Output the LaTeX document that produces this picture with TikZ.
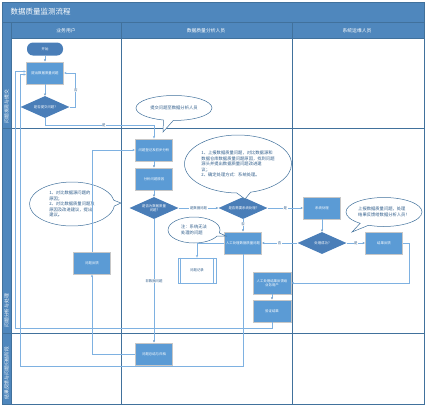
\documentclass[tikz,border=0pt]{standalone}
\usepackage{fontspec}
\setmainfont{Noto Sans CJK SC}
\usetikzlibrary{positioning,shapes.geometric,shapes.callouts,arrows.meta}

\definecolor{laneblue}{HTML}{4F87BD}
\definecolor{lanedark}{HTML}{41719C}
\definecolor{boxblue}{HTML}{5B9BD5}
\definecolor{diablue}{HTML}{4A7EB8}
\definecolor{flowblue}{HTML}{7EB1E1}
\definecolor{textblue}{HTML}{2E5C8A}

\newcommand{\boxfont}{\fontsize{3.4}{4.2}\selectfont}
\newcommand{\notefont}{\fontsize{4.3}{5.6}\selectfont}

\begin{document}
\begin{tikzpicture}
	[x=1pt,y=1pt,on grid,node distance=30pt,
	proc/.style={rectangle,fill=boxblue,draw=black!22,line width=0.9pt,minimum width=37pt,minimum height=22pt,inner sep=1pt,text=white,font=\boxfont,align=center},
	decision/.style={diamond,fill=diablue,minimum width=49pt,minimum height=22pt,aspect=2.2,inner sep=0pt,text=white,font=\boxfont,align=center},
	term/.style={rectangle,rounded corners=6pt,fill=diablue,minimum width=36pt,minimum height=13pt,text=white,font=\boxfont},
	note/.style={ellipse callout,draw=lanedark,fill=white,line width=0.5pt,text=textblue,font=\notefont,align=left,inner sep=0pt},
	flow/.style={draw=flowblue,line width=0.8pt,-{Stealth[length=2.6pt,width=2.2pt]}},
	lbl/.style={fill=white,inner sep=0.6pt,text=textblue,font=\boxfont},
	lane/.style={draw=lanedark,line width=1pt},
	head/.style={text=white,font=\fontsize{4.8}{6}\selectfont}]
	
	\useasboundingbox (0,0) rectangle (427,-407);
	% swimlanes
	\fill[laneblue] (2,-2) rectangle (424,-22);
	\fill[laneblue] (2,-23) rectangle (424,-38);
	\fill[laneblue] (2,-38) rectangle (11,-404);
	\draw[lane] (2,-2) rectangle (424,-404);
	\draw[lane] (2,-22.5) -- (424,-22.5);
	\draw[lane] (11,-38) -- (424,-38);
	\draw[lane] (2,-128) -- (424,-128);
	\draw[lane] (2,-333) -- (424,-333);
	\draw[lane] (11,-23) -- (11,-404);
	\draw[lane] (121,-23) -- (121,-404);
	\draw[lane] (292,-23) -- (292,-404);
	
	\node[head,anchor=west,font=\fontsize{7.5}{9}\selectfont] (title) at (7,-12) {数据质量监测流程};
	\node[head] (user) at (66,-31) {业务用户};
	\node[head] (analyst) at (206,-31) {数据质量分析人员};
	\node[head] (ops) at (357,-31) {系统运维人员};
	\node[head,rotate=90,anchor=west] (stage1) at (6.5,-127) {问题发现与提交};
	\node[head,rotate=90,anchor=west] (stage2) at (6.5,-331) {问题分析与处理};
	\node[head,rotate=90,anchor=west] (stage3) at (6.5,-403) {结果反馈与问题归档阶段};
	
	% steps
	\node[term] (start) at (45,-49) {开始};
	\node[proc] (submit) [below=24pt of start] {提出数据质量问题};
	\node[decision] (ask) [below=34pt of submit] {是否提交问题?};
	\node[proc] (register) at (154,-150) {问题登记及初步分析};
	\node[proc] (cause) [below=29pt of register] {分析问题原因};
	\node[decision] (isdq) [below=29pt of cause] {是否为数据质量\\问题?};
	\node[decision] (needsys) [right=89pt of isdq] {是否需要系统处理?};
	\node[proc] (sysfix) [right=79pt of needsys] {系统处理};
	\node[proc] (manual) [below=35pt of needsys] {人工处理数据质量问题};
	\node[decision] (ok) [below=35pt of sysfix] {处理成功?};
	\node[proc] (done) [right=62pt of ok] {结果反馈};
	\node[proc,minimum width=38pt] (report) at (272,-283) {人工处理结果反馈给\\业务用户};
	\node[proc,minimum width=38pt] (confirm) [below=28pt of report] {验证结果};
	\node[proc] (archive) at (154,-354) {问题总结与归档};
	\node[proc] (feedback) at (92,-263) {问题反馈};
	\node[rectangle,draw=flowblue,fill=white,line width=0.8pt,minimum width=38pt,minimum height=25pt,text=textblue,font=\boxfont] (record) at (197,-270.5) {问题记录};
	\draw[flowblue,line width=0.6pt] ([xshift=3pt]record.north west) -- ([xshift=3pt]record.south west)
		([xshift=-3pt]record.north east) -- ([xshift=-3pt]record.south east);
	
	% notes
	\node[note,minimum width=76pt,minimum height=25pt,callout absolute pointer={(163,-132)}] (note1) at (174,-108) {提交问题至数据分析人员};
	\node[note,minimum width=107pt,minimum height=58pt,callout absolute pointer={(245,-199)}] (note2) at (238,-164)
		{1、上报数据质量问题，对比数据源和\\数据仓库数据质量问题原因，找到问题\\源头并提出数据质量问题改进建\\议；\\2、确定处理方式：系统处理。};
	\node[note,minimum width=85pt,minimum height=44pt,callout absolute pointer={(121,-203)}] (note3) at (72,-204)
		{1、对比数据源问题的\\原因；\\2、对比数据质量问题及\\原因及改进建议，提出\\建议。};
	\node[note,minimum width=52pt,minimum height=26pt,callout absolute pointer={(226,-236)}] (note4) at (194,-230) {注：系统无法\\处理的问题};
	\node[note,minimum width=76pt,minimum height=29pt,callout absolute pointer={(352,-232)}] (note5) at (384,-212) {上报数据质量问题，处理\\结果反馈给数据分析人员！};
	
	% connectors
	\path[flow]
	(start) edge (submit)
	(submit) edge (ask)
	(register) edge (cause)
	(cause) edge (isdq)
	(isdq) edge node[lbl] {是数据问题} (needsys)
	       edge node[lbl] {非数据问题} (archive)
	(needsys) edge node[lbl] {是} (sysfix)
	          edge node[lbl,pos=0.4] {否} (manual)
	(sysfix) edge (ok)
	(ok) edge node[lbl] {否} (manual)
	     edge node[lbl] {是} (done)
	(report) edge (confirm)
	;
	\draw[flow] (ask.east) -- ++(6,0) |- node[lbl,pos=0.25] {否} (submit.east);
	\draw[flow] (ask.south) -- ++(0,-7) -| node[lbl,pos=0.27] {是} (register.north);
	\draw[flow] (done.east) -- ++(6,0) |- (report.east);
	\draw[flow] (confirm.south) |- (15,-328) |- ([yshift=1.5pt]submit.west);
	\draw[flow] (manual.south) |- (20,-366) |- ([yshift=-1.5pt]submit.west);
	\draw[flow] (manual.west) -| (record.north);
	\draw[flow] (archive.west) -| (feedback.south);
	\draw[flow] (feedback.north) |- (register.west);
\end{tikzpicture}
\end{document}
